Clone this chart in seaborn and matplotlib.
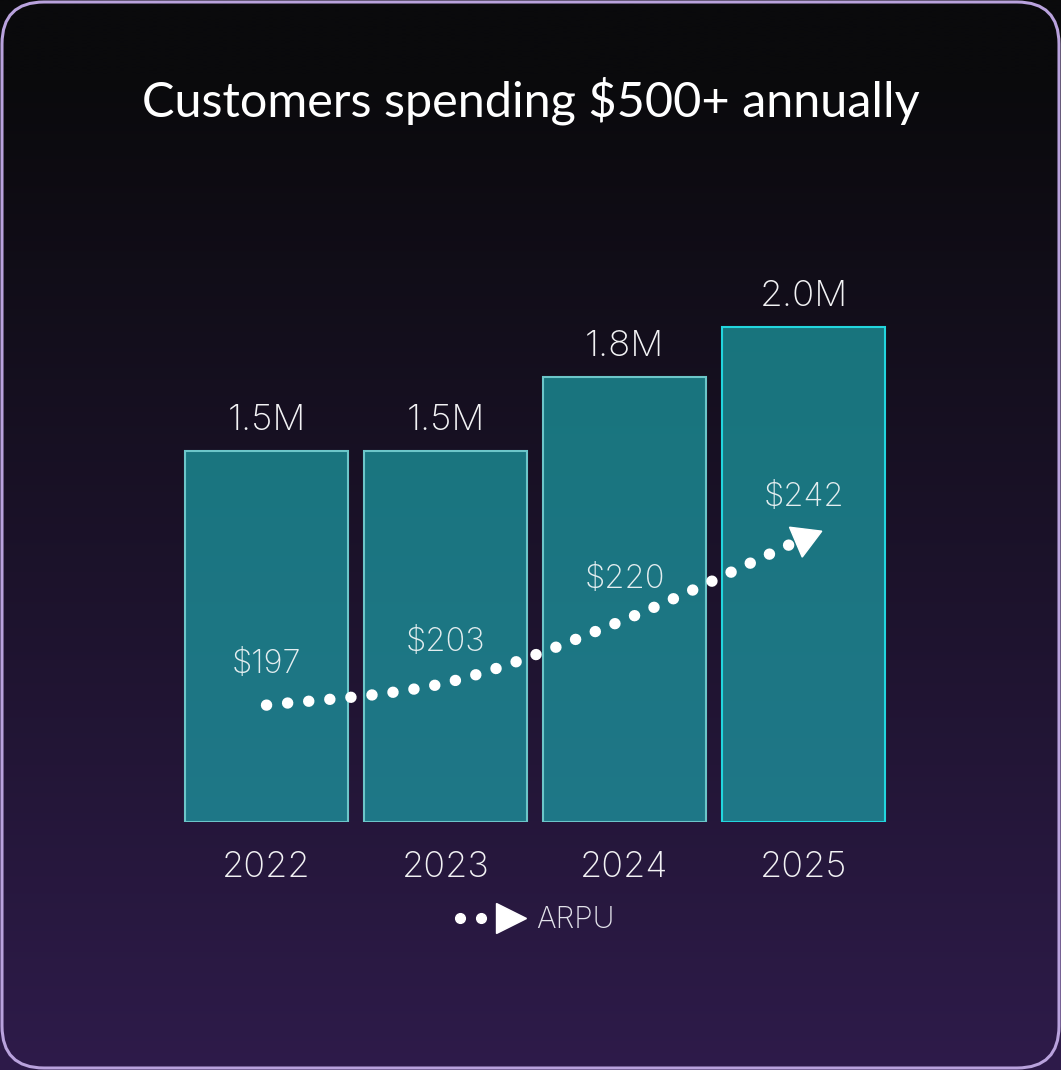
import numpy as np
import pandas as pd
import matplotlib
matplotlib.use("Agg")
import matplotlib.pyplot as plt
import seaborn as sns
from matplotlib.path import Path
from matplotlib.patches import PathPatch, FancyBboxPatch
from matplotlib.lines import Line2D
from matplotlib.legend_handler import HandlerBase
from matplotlib.colors import to_rgba

# ---- data -------------------------------------------------------------
years = ["2022", "2023", "2024", "2025"]
customers_m = [1.5, 1.5, 1.8, 2.0]          # customers spending $500+ (millions)
arpu = [197, 203, 220, 242]                 # average revenue per user ($)
bar_labels = ["1.5M", "1.5M", "1.8M", "2.0M"]
arpu_labels = ["$197", "$203", "$220", "$242"]
title = "Customers spending $500+ annually"

# ---- style ------------------------------------------------------------
sns.set_theme(style="white")
plt.rcParams["font.family"] = ["Inter", "DejaVu Sans"]
TEXT = "#f2f2f4"
BAR_FILL = to_rgba("#1caab0", 0.66)
EDGE = ["#6cc6c9", "#6cc6c9", "#6cc6c9", "#22d6de"]

W, H = 1061, 1070
fig = plt.figure(figsize=(W / 100, H / 100), dpi=100)

# background: vertical gradient with a rounded outline
bg = fig.add_axes([0, 0, 1, 1], zorder=-10)
rows = np.linspace(0, 1, 512)
t = np.clip((rows - 0.07) / 0.93, 0, 1)
top = np.array([10, 10, 12]) / 255
bot = np.array([46, 27, 74]) / 255
grad = (top[None, :] * (1 - t[:, None]) + bot[None, :] * t[:, None])[:, None, :]
bg.imshow(grad, extent=(0, W, H, 0), aspect="auto", interpolation="bilinear")
bg.set_xlim(0, W)
bg.set_ylim(H, 0)
bg.add_patch(FancyBboxPatch((2, 2), W - 4, H - 4,
                            boxstyle="round,pad=0,rounding_size=42",
                            fill=False, ec="#b9a2dd", lw=2.2))
bg.axis("off")

# ---- bars -------------------------------------------------------------
ax = fig.add_axes([177 / W, 1 - 822 / H, 716 / W, 643 / H])
ax.set_facecolor("none")
df = pd.DataFrame({"year": years, "customers": customers_m})
sns.barplot(data=df, x="year", y="customers", hue="year",
            palette=[BAR_FILL] * len(years), width=0.91,
            legend=False, ax=ax, saturation=1)
for patch, ec in zip(ax.patches, EDGE):
    patch.set_facecolor(BAR_FILL)
    patch.set_edgecolor(ec)
    patch.set_linewidth(1.5)
for cont, lab in zip(ax.containers, bar_labels):
    ax.bar_label(cont, labels=[lab], padding=10, color=TEXT,
                 fontsize=26.5, fontweight="light")

ax.set_xlim(-0.5, 3.5)
ax.set_ylim(0, 2.6)
ax.set_yticks([])
ax.set_xlabel("")
ax.set_ylabel("")
ax.tick_params(axis="x", length=0, pad=21, labelsize=26, labelcolor=TEXT)
for lab in ax.get_xticklabels():
    lab.set_fontweight("light")
sns.despine(ax=ax, left=True, bottom=True)

# ---- ARPU dotted curve on a secondary scale ----------------------------
ax2 = ax.twinx()
ax2.set_ylim(165.5, 338.8)
ax2.set_xlim(-0.5, 3.5)
ax2.axis("off")

xs = np.arange(len(arpu), dtype=float)
pts = np.column_stack([xs, np.array(arpu, dtype=float)])
ext = np.vstack([pts[0], pts, pts[-1]])
verts = [tuple(pts[0])]
codes = [Path.MOVETO]
for i in range(len(pts) - 1):
    p0, p1, p2, p3 = ext[i], ext[i + 1], ext[i + 2], ext[i + 3]
    c1 = p1 + (p2 - p0) / 6
    c2 = p2 - (p3 - p1) / 6
    verts += [tuple(c1), tuple(c2), tuple(p2)]
    codes += [Path.CURVE4] * 3
curve = PathPatch(Path(verts, codes), fill=False, ec="white", lw=8.2,
                  linestyle=(0, (0.01, 1.85)), capstyle="round", zorder=5)
ax2.add_patch(curve)
ax2.plot(xs[-1], arpu[-1], marker=(3, 0, 173), ms=27, color="white",
         mec="white", ls="none", zorder=6)

for x, v, lab in zip(xs, arpu, arpu_labels):
    ax2.annotate(lab, (x, v), xytext=(0, 29), textcoords="offset points",
                 ha="center", va="center", color="#e4eef0", fontsize=23.5,
                 fontweight="light", zorder=7)


# ---- legend -----------------------------------------------------------
class ArpuHandle(HandlerBase):
    def create_artists(self, legend, orig_handle, xdescent, ydescent,
                       width, height, fontsize, trans):
        y = height / 2 - ydescent
        dots = Line2D([width * 0.065 - xdescent, width * 0.35 - xdescent],
                      [y, y], ls="none", marker="o", ms=7, color="white",
                      mec="white", transform=trans)
        tri = Line2D([width * 0.78 - xdescent], [y], ls="none", marker=">",
                     ms=22, color="white", mec="white", transform=trans)
        return [dots, tri]


proxy = Line2D([], [], color="white")
leg = fig.legend([proxy], ["ARPU"], handler_map={Line2D: ArpuHandle()},
                 loc="center", bbox_to_anchor=(535 / W, 1 - 920 / H),
                 frameon=False, fontsize=21.5, handlelength=2.4,
                 handletextpad=0.3, labelcolor="#e2e2ea")
for txt in leg.get_texts():
    txt.set_fontweight("light")

# ---- title ------------------------------------------------------------
fig.text(531 / W, 1 - 101 / H, title, ha="center", va="center",
         color="white", fontsize=35, family=["Lato", "DejaVu Sans"])

fig.savefig("out.png", dpi=100)
